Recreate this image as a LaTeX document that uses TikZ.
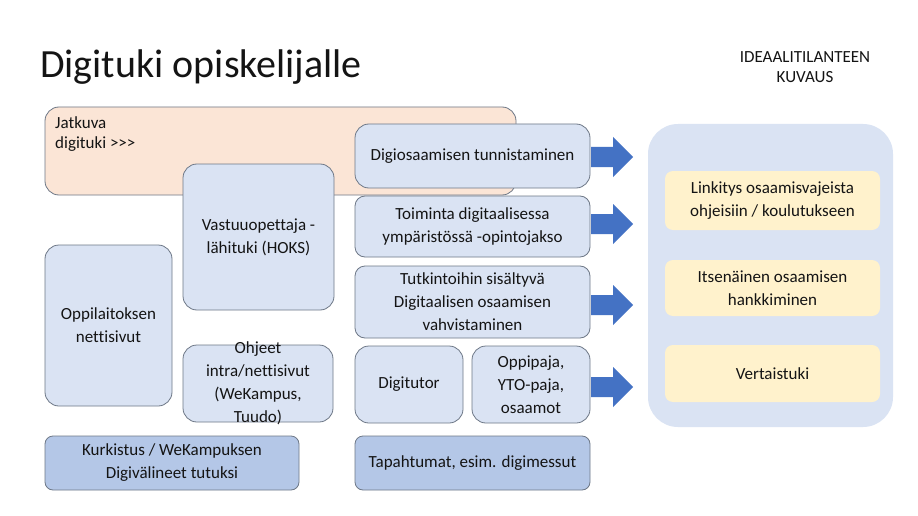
\documentclass[tikz,border=0pt]{standalone}
\usepackage{fontspec}
\setmainfont{Carlito}[Ligatures={TeX,NoCommon}]
\usetikzlibrary{positioning}
\definecolor{peach}{RGB}{251,229,214}
\definecolor{lblue}{RGB}{218,227,243}
\definecolor{dblue}{RGB}{180,199,231}
\definecolor{bigblue}{RGB}{218,227,243}
\definecolor{lyellow}{RGB}{255,242,204}
\definecolor{edgegray}{RGB}{110,120,135}
\definecolor{arrowblue}{RGB}{68,114,196}
\definecolor{txt}{RGB}{20,20,20}
\tikzset{
  box/.style={draw=edgegray, line width=0.8pt, rounded corners=14pt, align=center, text=txt,
    font=\fontsize{17}{23}\selectfont, inner sep=2pt},
  lightbox/.style={box, fill=lblue},
  darkbox/.style={box, fill=dblue, rounded corners=8pt},
  yellowbox/.style={fill=lyellow, rounded corners=8pt, align=center, text=txt,
    font=\fontsize{17}{23}\selectfont},
}
\newcommand\blockarrow[1]{\fill[arrowblue] (591,{#1-10}) -- (613,{#1-10}) -- (613,{#1-20}) -- (633,#1) -- (613,{#1+20}) -- (613,{#1+10}) -- (591,{#1+10}) -- cycle;}
\begin{document}
\begin{tikzpicture}[x=1pt,y=-1pt]
\useasboundingbox (0,0) rectangle (918,516);
\fill[white] (0,0) rectangle (918,516);
% title
\node[anchor=base west, inner sep=0pt, font=\fontsize{40}{48}\selectfont, text=txt] (title) at (40,78) {Digituki opiskelijalle};
\node[align=center, font=\fontsize{17}{20}\selectfont, text=txt] (ideal) at (805,67) {IDEAALITILANTEEN\\KUVAUS};
% orange
\node[box, fill=peach, minimum width=471pt, minimum height=88pt] (orange) at (280.5,151) {};
\node[anchor=north west, align=left, font=\fontsize{17}{20}\selectfont, text=txt, inner sep=0pt] (jatk) at (55,116) {Jatkuva\\digituki {>}{>}{>}};
% left nodes
\node[lightbox, minimum width=151pt, minimum height=146pt] (vastuu) at (258.5,237) {Vastuuopettaja -\\lähituki (HOKS)};
\node[lightbox, minimum width=127pt, minimum height=161pt] (oppil) at (108.5,325.5) {Oppilaitoksen\\nettisivut};
\node[lightbox, minimum width=150pt, minimum height=77pt, inner ysep=-4pt] (ohjeet) at (258,383.5) {\fontsize{17}{21.5}\selectfont Ohjeet\\intra/nettisivut\\(WeKampus,\\Tuudo)};
\node[darkbox, minimum width=254pt, minimum height=54pt] (kurk) at (172,463) {Kurkistus / WeKampuksen\\Digivälineet tutuksi};
% middle column
\node[lightbox, minimum width=235pt, minimum height=64pt] (digio) at (472.5,156) {Digiosaamisen tunnistaminen};
\node[lightbox, minimum width=235pt, minimum height=61pt, rounded corners=10pt] (toim) at (472.5,226.5) {Toiminta digitaalisessa\\ympäristössä -opintojakso};
\node[lightbox, minimum width=235pt, minimum height=72pt, rounded corners=10pt] (tutk) at (472.5,302) {Tutkintoihin sisältyvä\\Digitaalisen osaamisen\\vahvistaminen};
\node[lightbox, minimum width=108pt, minimum height=77pt] (digit) at (409,384.5) {Digitutor};
\node[lightbox, minimum width=118pt, minimum height=77pt] (oppip) at (531,384.5) {Oppipaja,\\YTO-paja,\\osaamot};
\node[darkbox, minimum width=235pt, minimum height=54pt] (tapah) at (472.5,463) {Tapahtumat, esim. digimessut};
% arrows
\blockarrow{157}
\blockarrow{224}
\blockarrow{305}
\blockarrow{387}
% right
\node[fill=bigblue, rounded corners=30pt, minimum width=245pt, minimum height=303pt] (big) at (770.5,275.5) {};
\node[yellowbox, minimum width=215pt, minimum height=59pt] (y1) at (772.5,200.5) {Linkitys osaamisvajeista\\ohjeisiin / koulutukseen};
\node[yellowbox, minimum width=215pt, minimum height=56pt] (y2) at (772.5,288) {Itsenäinen osaamisen\\hankkiminen};
\node[yellowbox, minimum width=215pt, minimum height=57pt] (y3) at (772.5,373.5) {Vertaistuki};
\end{tikzpicture}
\end{document}
